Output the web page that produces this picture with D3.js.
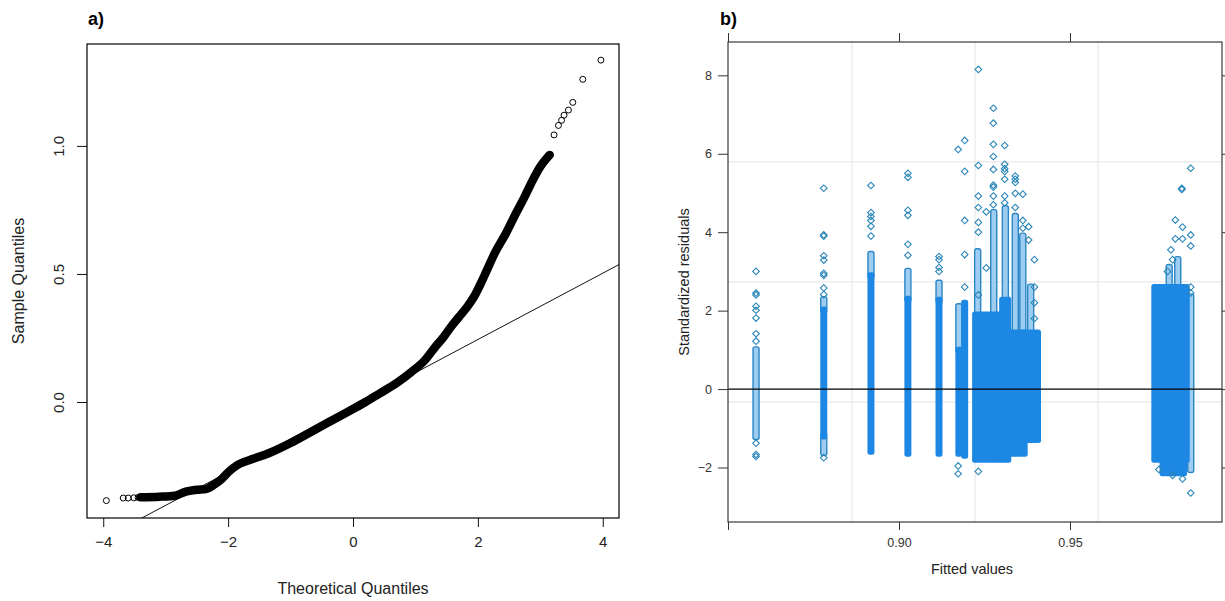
<!DOCTYPE html>
<html lang="en">
<head>
<meta charset="UTF-8">
<title>Q-Q plot and standardized residuals</title>
<script src="https://d3js.org/d3.v7.min.js"></script>
<style>
    body { margin: 0; background: #fff; }
    svg { display: block; font-family: "Liberation Sans", Arial, sans-serif; }
    .tick line { stroke: #111; }
    .axis-a text { font-size: 15px; fill: #222; }
    .axis-b text { font-size: 12.5px; fill: #333; }
    .axis-b line { stroke: #333; }
    .title-a { font-size: 16px; fill: #222; }
    .title-b { font-size: 14.5px; fill: #222; }
    .panel-tag { font-size: 18px; font-weight: bold; fill: #000; }
</style>
</head>
<body>
<div id="chart"></div>
<script>
// ---- panel a: normal Q-Q plot ----
// dense part of the curve, drawn as a thick band
const qqTheo   = [-3.40, -3.10, -2.85, -2.70, -2.50, -2.36, -2.22, -2.10, -1.98, -1.85, -1.60, -1.35, -1.00, -0.71, -0.40, -0.08, 0.20, 0.43, 0.70, 0.94, 1.15, 1.32, 1.45, 1.57, 1.70, 1.83, 1.94, 2.11, 2.27, 2.45, 2.61, 2.75, 2.88, 3.00, 3.15];
const qqSample = [-0.372, -0.370, -0.366, -0.352, -0.343, -0.340, -0.322, -0.300, -0.270, -0.246, -0.222, -0.200, -0.160, -0.122, -0.080, -0.038, 0.000, 0.034, 0.074, 0.118, 0.163, 0.216, 0.253, 0.294, 0.333, 0.372, 0.412, 0.496, 0.581, 0.659, 0.737, 0.802, 0.867, 0.919, 0.965];
// isolated points in both tails
const tailTheo   = [-3.95, -3.68, -3.60, -3.51, -3.44, 3.22, 3.29, 3.34, 3.38, 3.45, 3.52, 3.68, 3.97];
const tailSample = [-0.385, -0.375, -0.375, -0.374, -0.373, 1.043, 1.080, 1.100, 1.120, 1.140, 1.170, 1.260, 1.335];
// qqline
const qqIntercept = -0.015;
const qqSlope = 0.1295;
const aTicksX = [-4, -2, 0, 2, 4];
const aTicksY = [0.0, 0.5, 1.0];

// ---- panel b: standardized residuals vs fitted values ----
// solid blocks of overlapping points: fitted from..to, residual low..high
const bandX0 = [0.8780, 0.8918, 0.9026, 0.9117, 0.9175, 0.9192, 0.9224, 0.9303, 0.9328, 0.9366, 0.9748, 0.9772];
const bandX1 = [0.8780, 0.8918, 0.9026, 0.9117, 0.9175, 0.9192, 0.9292, 0.9318, 0.9366, 0.9405, 0.9840, 0.9832];
const bandLo = [-1.21, -1.60, -1.65, -1.65, -1.65, -1.70, -1.80, -1.80, -1.65, -1.30, -1.80, -2.15];
const bandHi = [2.03, 2.90, 2.30, 2.28, 1.00, 2.20, 1.90, 2.28, 1.44, 1.44, 2.60, -1.50];
// looser stacks of points
const chainX  = [0.8582, 0.8780, 0.8780, 0.8918, 0.9026, 0.9117, 0.9175, 0.9230, 0.9277, 0.9311, 0.9340, 0.9362, 0.9385, 0.9790, 0.9815, 0.9853];
const chainLo = [-1.21, -1.62, 2.03, 2.90, 2.30, 2.28, 1.00, 1.90, 1.90, 2.28, 1.44, 1.44, 1.44, 2.60, 2.60, -2.05];
const chainHi = [1.00, -1.21, 2.28, 3.43, 3.00, 2.70, 2.10, 3.50, 4.50, 4.60, 4.40, 3.90, 2.60, 3.10, 3.30, 2.35];
// single points
const ptX = [
    0.8582, 0.8582, 0.8582, 0.8582, 0.8582, 0.8582, 0.8582, 0.8582, 0.8582, 0.8582, 0.8582,
    0.8780, 0.8780, 0.8780, 0.8780, 0.8780, 0.8780, 0.8780, 0.8780, 0.8780, 0.8780,
    0.8918, 0.8918, 0.8918, 0.8918, 0.8918, 0.8918,
    0.9026, 0.9026, 0.9026, 0.9026, 0.9026, 0.9026,
    0.9117, 0.9117, 0.9117, 0.9117,
    0.9173, 0.9173, 0.9173,
    0.9192, 0.9192, 0.9192, 0.9192, 0.9192,
    0.9232, 0.9232, 0.9232, 0.9232, 0.9232, 0.9232, 0.9232, 0.9232,
    0.9255, 0.9255,
    0.9276, 0.9276, 0.9276, 0.9276, 0.9276, 0.9276, 0.9276, 0.9276, 0.9276,
    0.9309, 0.9309, 0.9309, 0.9309, 0.9309, 0.9309, 0.9309,
    0.9340, 0.9340, 0.9340, 0.9340, 0.9340,
    0.9362, 0.9362, 0.9362,
    0.9379, 0.9379,
    0.9396, 0.9396, 0.9396, 0.9396,
    0.9808, 0.9829, 0.9808, 0.9829, 0.9795, 0.9800, 0.9785, 0.9827, 0.9827,
    0.9853, 0.9853, 0.9853, 0.9853, 0.9853, 0.9853,
    0.9760, 0.9800, 0.9829
];
const ptY = [
    3.00, 2.45, 2.40, 2.11, 2.01, 1.81, 1.41, 1.22, -1.38, -1.67, -1.72,
    5.12, 3.93, 3.90, 3.40, 3.29, 2.95, 2.90, 2.58, 2.41, -1.75,
    5.19, 4.50, 4.40, 4.30, 4.15, 3.90,
    5.50, 5.40, 4.56, 4.43, 3.69, 3.41,
    3.38, 3.30, 3.10, 3.00,
    6.11, -1.96, -2.16,
    6.34, 5.55, 4.30, 3.43, 2.60,
    8.15, 5.70, 4.92, 4.63, 4.25, 4.00, 2.40, -2.10,
    4.52, 3.09,
    7.16, 6.78, 6.24, 5.93, 5.60, 5.20, 5.15, 4.92, 4.70,
    6.21, 5.73, 5.62, 5.55, 5.35, 4.92, 4.75,
    5.43, 5.35, 5.27, 4.99, 4.63,
    4.97, 4.30, 4.10,
    4.14, 3.80,
    3.30, 2.60, 2.20, 1.80,
    4.31, 4.13, 3.83, 3.83, 3.55, 3.30, 3.00, 5.09, 5.12,
    5.63, 3.93, 3.65, 2.60, 2.45, -2.65,
    -2.05, -2.20, -2.29
];
// light reference grid of the panel
const gridX = [0.88626, 0.92222, 0.95819];
const gridY = [5.794, 2.732, -0.329];
const bTicksX = [0.85, 0.90, 0.95];
const bTickLabelsX = ["", "0.90", "0.95"];
const bTicksY = [-2, 0, 2, 4, 6, 8];

// ---- layout ----
const width = 1225, height = 601;
const svg = d3.select("#chart").append("svg")
    .attr("width", width)
    .attr("height", height);
svg.append("rect").attr("width", width).attr("height", height).attr("fill", "#fff");

// ================= panel a =================
const ax = d3.scaleLinear().domain([-4.26, 4.26]).range([87, 619]);
const ay = d3.scaleLinear().domain([-0.453, 1.398]).range([518, 44]);

svg.append("clipPath").attr("id", "clip-a")
    .append("rect")
    .attr("x", ax.range()[0]).attr("y", ay.range()[1])
    .attr("width", ax.range()[1] - ax.range()[0])
    .attr("height", ay.range()[0] - ay.range()[1]);

const ga = svg.append("g");

// reference line
const aDom = ax.domain();
ga.append("line")
    .attr("clip-path", "url(#clip-a)")
    .attr("x1", ax(aDom[0])).attr("y1", ay(qqIntercept + qqSlope * aDom[0]))
    .attr("x2", ax(aDom[1])).attr("y2", ay(qqIntercept + qqSlope * aDom[1]))
    .attr("stroke", "#111").attr("stroke-width", 1);

// dense band of points
const qqLine = d3.line()
    .x((d, i) => ax(qqTheo[i]))
    .y((d, i) => ay(qqSample[i]))
    .curve(d3.curveMonotoneX);
ga.append("path")
    .attr("d", qqLine(qqTheo))
    .attr("fill", "none")
    .attr("stroke", "#000")
    .attr("stroke-width", 8.5)
    .attr("stroke-linecap", "round")
    .attr("stroke-linejoin", "round");

// tail points
ga.selectAll(".tail")
    .data(tailTheo)
    .enter()
    .append("circle")
    .attr("class", "tail")
    .attr("cx", (d, i) => ax(tailTheo[i]))
    .attr("cy", (d, i) => ay(tailSample[i]))
    .attr("r", 3)
    .attr("fill", "none")
    .attr("stroke", "#000")
    .attr("stroke-width", 1);

// axes
ga.append("g")
    .attr("class", "axis-a")
    .attr("transform", "translate(0," + ay.range()[0] + ")")
    .call(d3.axisBottom(ax).tickValues(aTicksX).tickFormat(d3.format("d")).tickSize(9).tickPadding(9))
    .call(g => g.select(".domain").remove())
    .selectAll("text").attr("dy", "0.72em");

const ayAxis = ga.append("g")
    .attr("class", "axis-a")
    .attr("transform", "translate(" + ax.range()[0] + ",0)")
    .call(d3.axisLeft(ay).tickValues(aTicksY).tickFormat(d3.format(".1f")).tickSize(10))
    .call(g => g.select(".domain").remove());
ayAxis.selectAll("text")
    .attr("transform", "rotate(-90)")
    .attr("x", 0).attr("y", -23).attr("dy", 0)
    .attr("text-anchor", "middle");

// frame
ga.append("rect")
    .attr("x", ax.range()[0]).attr("y", ay.range()[1])
    .attr("width", ax.range()[1] - ax.range()[0])
    .attr("height", ay.range()[0] - ay.range()[1])
    .attr("fill", "none").attr("stroke", "#000").attr("stroke-width", 1.2);

ga.append("text")
    .attr("class", "title-a")
    .attr("text-anchor", "middle")
    .attr("x", (ax.range()[0] + ax.range()[1]) / 2)
    .attr("y", 594)
    .text("Theoretical Quantiles");

ga.append("text")
    .attr("class", "title-a")
    .attr("text-anchor", "middle")
    .attr("transform", "translate(24," + (ay.range()[0] + ay.range()[1]) / 2 + ") rotate(-90)")
    .text("Sample Quantiles");

ga.append("text").attr("class", "panel-tag").attr("x", 88).attr("y", 25).text("a)");

// ================= panel b =================
const bx = d3.scaleLinear().domain([0.85, 0.99444]).range([728, 1222]);
const by = d3.scaleLinear().domain([-3.39, 8.85]).range([522, 42]);

svg.append("clipPath").attr("id", "clip-b")
    .append("rect")
    .attr("x", bx.range()[0]).attr("y", by.range()[1])
    .attr("width", bx.range()[1] - bx.range()[0])
    .attr("height", by.range()[0] - by.range()[1]);

const gb = svg.append("g");
const plot = gb.append("g").attr("clip-path", "url(#clip-b)");

// grid
plot.selectAll(".gx").data(gridX).enter().append("line")
    .attr("x1", d => bx(d)).attr("x2", d => bx(d))
    .attr("y1", by.range()[0]).attr("y2", by.range()[1])
    .attr("stroke", "#e4e4e4").attr("stroke-width", 1);
plot.selectAll(".gy").data(gridY).enter().append("line")
    .attr("y1", d => by(d)).attr("y2", d => by(d))
    .attr("x1", bx.range()[0]).attr("x2", bx.range()[1])
    .attr("stroke", "#e4e4e4").attr("stroke-width", 1);

const blue = "#1d87e4";
const halfW = 3.5;

// loose stacks: hollow stripe, like a string of open diamonds
plot.selectAll(".chain").data(chainX).enter().append("rect")
    .attr("x", d => bx(d) - halfW + 0.5)
    .attr("width", halfW * 2 - 1)
    .attr("y", (d, i) => by(chainHi[i]) - 3)
    .attr("height", (d, i) => by(chainLo[i]) - by(chainHi[i]) + 6)
    .attr("rx", 2)
    .attr("fill", "#9fcdf2")
    .attr("stroke", "#2a86c4")
    .attr("stroke-width", 1.4);

// solid blocks
plot.selectAll(".band").data(bandX0).enter().append("rect")
    .attr("x", d => bx(d) - halfW)
    .attr("width", (d, i) => bx(bandX1[i]) - bx(d) + halfW * 2)
    .attr("y", (d, i) => by(bandHi[i]) - 3)
    .attr("height", (d, i) => by(bandLo[i]) - by(bandHi[i]) + 6)
    .attr("rx", 2.5)
    .attr("fill", blue);

// single points as open diamonds
const diamond = d3.symbol().type(d3.symbolSquare).size(22);
plot.selectAll(".pt").data(ptX).enter().append("path")
    .attr("d", diamond)
    .attr("transform", (d, i) => "translate(" + bx(d) + "," + by(ptY[i]) + ") rotate(45)")
    .attr("fill", "none")
    .attr("stroke", "#2b86b8")
    .attr("stroke-width", 1.1);

// zero line
gb.append("line")
    .attr("x1", bx.range()[0]).attr("x2", bx.range()[1])
    .attr("y1", by(0)).attr("y2", by(0))
    .attr("stroke", "#000").attr("stroke-width", 1.2);

// axes
gb.append("g")
    .attr("class", "axis-b")
    .attr("transform", "translate(0," + by.range()[0] + ")")
    .call(d3.axisBottom(bx).tickValues(bTicksX).tickFormat((d, i) => bTickLabelsX[i]).tickSize(8).tickPadding(8))
    .call(g => g.select(".domain").remove());
gb.append("g")
    .attr("transform", "translate(0," + by.range()[1] + ")")
    .attr("class", "axis-b")
    .call(d3.axisTop(bx).tickValues(bTicksX).tickFormat("").tickSize(9))
    .call(g => g.select(".domain").remove());
gb.append("g")
    .attr("class", "axis-b")
    .attr("transform", "translate(" + bx.range()[0] + ",0)")
    .call(d3.axisLeft(by).tickValues(bTicksY).tickFormat(d3.format("d")).tickSize(10).tickPadding(6))
    .call(g => g.select(".domain").remove());
gb.append("g")
    .attr("class", "axis-b")
    .attr("transform", "translate(" + bx.range()[1] + ",0)")
    .call(d3.axisRight(by).tickValues(bTicksY).tickFormat("").tickSize(10))
    .call(g => g.select(".domain").remove());

// frame
gb.append("rect")
    .attr("x", bx.range()[0]).attr("y", by.range()[1])
    .attr("width", bx.range()[1] - bx.range()[0])
    .attr("height", by.range()[0] - by.range()[1])
    .attr("fill", "none").attr("stroke", "#3a3a3a").attr("stroke-width", 1.2);

gb.append("text")
    .attr("class", "title-b")
    .attr("text-anchor", "middle")
    .attr("x", 972)
    .attr("y", 574)
    .text("Fitted values");

gb.append("text")
    .attr("class", "title-b")
    .attr("text-anchor", "middle")
    .attr("transform", "translate(689," + (by.range()[0] + by.range()[1]) / 2 + ") rotate(-90)")
    .text("Standardized residuals");

gb.append("text").attr("class", "panel-tag").attr("x", 720).attr("y", 25).text("b)");
</script>
</body>
</html>
